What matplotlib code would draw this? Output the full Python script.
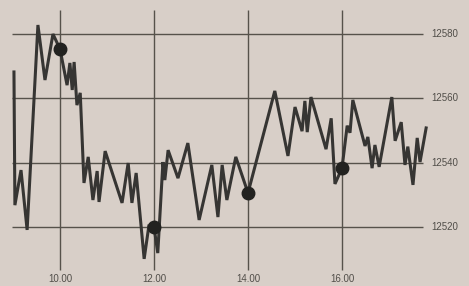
# intraday index chart, scanned-newspaper look

import matplotlib.pyplot as plt

# time in decimal hours, index level
hours = [9.02, 9.04, 9.17, 9.30, 9.53, 9.68, 9.85, 10.00, 10.15, 10.21,
         10.26, 10.30, 10.36, 10.43, 10.51, 10.60, 10.70, 10.79, 10.83, 10.96,
         11.32, 11.45, 11.53, 11.62, 11.79, 11.89, 12.00, 12.08, 12.19, 12.23,
         12.30, 12.51, 12.72, 12.96, 13.23, 13.36, 13.45, 13.55, 13.74, 14.00,
         14.57, 14.85, 15.00, 15.15, 15.21, 15.26, 15.34, 15.66, 15.77, 15.85,
         16.00, 16.11, 16.17, 16.23, 16.49, 16.55, 16.64, 16.70, 16.79, 17.06,
         17.13, 17.26, 17.34, 17.40, 17.51, 17.60, 17.66, 17.79]
level = [12568.2, 12526.8, 12537.7, 12519.1, 12582.8, 12565.7, 12580.0, 12575.3, 12564.1, 12571.0,
         12562.6, 12571.3, 12557.9, 12561.7, 12533.7, 12541.8, 12528.4, 12537.4, 12527.8, 12543.6,
         12527.5, 12539.9, 12527.5, 12536.8, 12510.1, 12520.3, 12520.0, 12511.9, 12540.2, 12534.6,
         12543.9, 12535.2, 12546.1, 12522.2, 12539.3, 12523.1, 12539.3, 12528.4, 12541.8, 12530.6,
         12562.3, 12542.1, 12557.3, 12549.8, 12559.2, 12549.5, 12560.4, 12544.2, 12553.8, 12533.4,
         12538.3, 12551.5, 12549.3, 12559.5, 12545.2, 12548.0, 12538.3, 12545.5, 12538.7, 12560.4,
         12546.8, 12552.6, 12539.3, 12545.0, 12533.1, 12547.7, 12540.2, 12550.8]

# marked points on the full hours
dot_hours = [10.00, 12.00, 14.00, 16.00]
dot_level = [12575.3, 12520.0, 12530.6, 12538.3]

y_ticks = [12520, 12540, 12560, 12580]
x_ticks = [10, 12, 14, 16]
x_labels = ["10.00", "12.00", "14.00", "16.00"]

bg = "#d8cfc8"
grid_col = "#56524b"
line_col = "#363533"

fig = plt.figure(figsize=(4.69, 2.86), dpi=100, facecolor=bg)
ax = fig.add_axes([0, 0, 1, 1])
ax.set_facecolor(bg)
ax.set_xlim(8.723, 18.702)
ax.set_ylim(12501.67, 12590.57)
ax.axis("off")

ax.hlines(y_ticks, 8.979, 17.723, color=grid_col, lw=1.0, zorder=1)
ax.vlines(x_ticks, 12506.6, 12587.5, color=grid_col, lw=1.0, zorder=1)

ax.plot(hours, level, color=line_col, lw=2.2, solid_joinstyle="miter", zorder=2)
ax.plot(dot_hours, dot_level, "o", color="#222220", ms=9, zorder=3)

for v in y_ticks:
    ax.text(17.89, v, str(v), ha="left", va="center", fontsize=7,
            family="Liberation Sans", color="#514e49")
for t, lab in zip(x_ticks, x_labels):
    ax.text(t, 12504.0, lab, ha="center", va="center", fontsize=7,
            family="Liberation Sans", color="#514e49")

fig.savefig("out.png", dpi=100, facecolor=bg)
